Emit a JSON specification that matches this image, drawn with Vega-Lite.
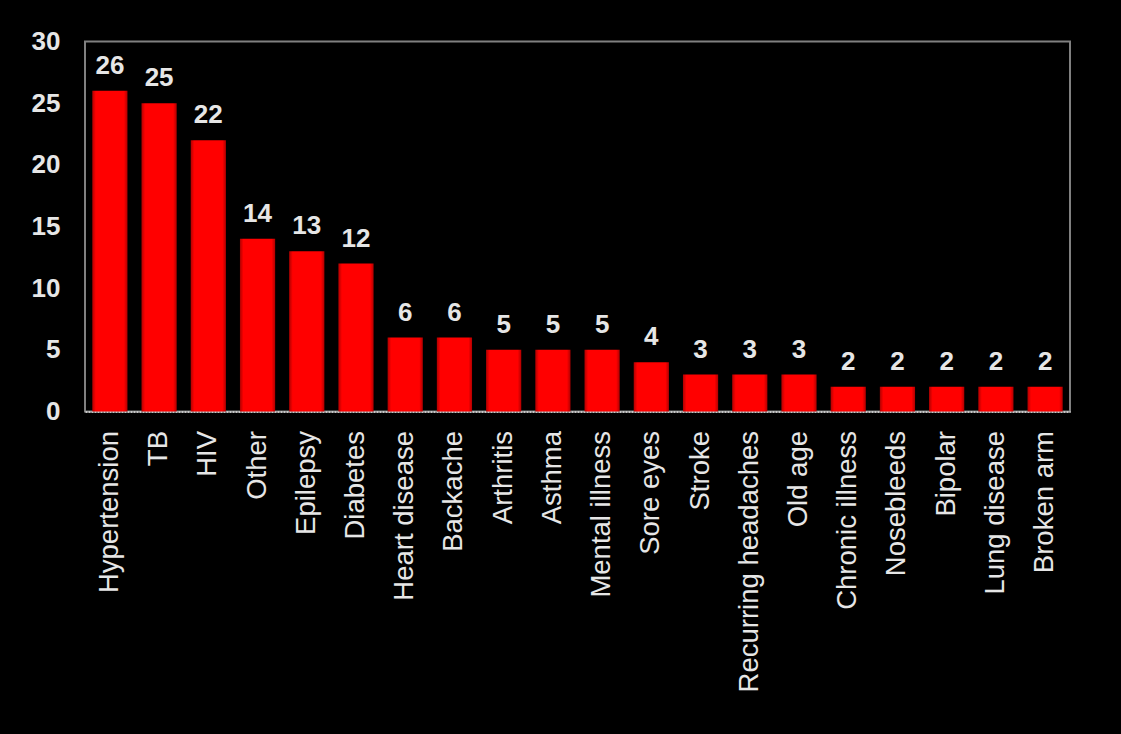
{
  "$schema": "https://vega.github.io/schema/vega-lite/v6.json",
  "width": 985,
  "height": 370,
  "autosize": {"type": "none"},
  "padding": {"left": 85, "top": 41.5, "right": 51, "bottom": 322.5},
  "background": "#000000",
  "config": {
    "view": {"stroke": "#808080", "strokeWidth": 2, "fill": "#000000"},
    "font": "Liberation Sans"
  },
  "data": {
    "values": [
      {"condition": "Hypertension", "count": 26},
      {"condition": "TB", "count": 25},
      {"condition": "HIV", "count": 22},
      {"condition": "Other", "count": 14},
      {"condition": "Epilepsy", "count": 13},
      {"condition": "Diabetes", "count": 12},
      {"condition": "Heart disease", "count": 6},
      {"condition": "Backache", "count": 6},
      {"condition": "Arthritis", "count": 5},
      {"condition": "Asthma", "count": 5},
      {"condition": "Mental illness", "count": 5},
      {"condition": "Sore eyes", "count": 4},
      {"condition": "Stroke", "count": 3},
      {"condition": "Recurring headaches", "count": 3},
      {"condition": "Old age", "count": 3},
      {"condition": "Chronic illness", "count": 2},
      {"condition": "Nosebleeds", "count": 2},
      {"condition": "Bipolar", "count": 2},
      {"condition": "Lung disease", "count": 2},
      {"condition": "Broken arm", "count": 2}
    ]
  },
  "encoding": {
    "x": {
      "field": "condition",
      "type": "nominal",
      "sort": null,
      "scale": {"paddingInner": 0.285, "paddingOuter": 0.148},
      "axis": {
        "title": null,
        "labelAngle": -90,
        "labelAlign": "right",
        "labelBaseline": "middle",
        "labelFont": "Liberation Sans",
        "labelFontSize": 27.5,
        "labelColor": "#e6e6e6",
        "labelPadding": 19,
        "labelLimit": 400,
        "ticks": false,
        "domain": true,
        "domainColor": "#c8c8c8",
        "domainWidth": 2,
        "domainDash": [2, 1]
      }
    },
    "y": {
      "field": "count",
      "type": "quantitative",
      "scale": {"domain": [0, 30], "nice": false},
      "axis": {
        "title": null,
        "values": [0, 5, 10, 15, 20, 25, 30],
        "grid": false,
        "ticks": false,
        "domain": false,
        "labelFont": "Liberation Sans",
        "labelFontWeight": "bold",
        "labelFontSize": 26,
        "labelColor": "#e6e6e6",
        "labelPadding": 25,
        "labelFlush": false,
        "labelOverlap": false
      }
    }
  },
  "layer": [
    {
      "mark": {
        "type": "bar",
        "color": {
          "gradient": "linear",
          "x1": 0, "y1": 0, "x2": 1, "y2": 0,
          "stops": [
            {"offset": 0, "color": "#b00000"},
            {"offset": 0.1, "color": "#ff0000"},
            {"offset": 0.9, "color": "#ff0000"},
            {"offset": 1, "color": "#b00000"}
          ]
        }
      }
    },
    {
      "mark": {
        "type": "text",
        "baseline": "alphabetic",
        "dy": -17,
        "font": "Liberation Sans",
        "fontSize": 26,
        "fontWeight": "bold",
        "color": "#e6e6e6"
      },
      "encoding": {"text": {"field": "count", "type": "quantitative"}}
    }
  ]
}
